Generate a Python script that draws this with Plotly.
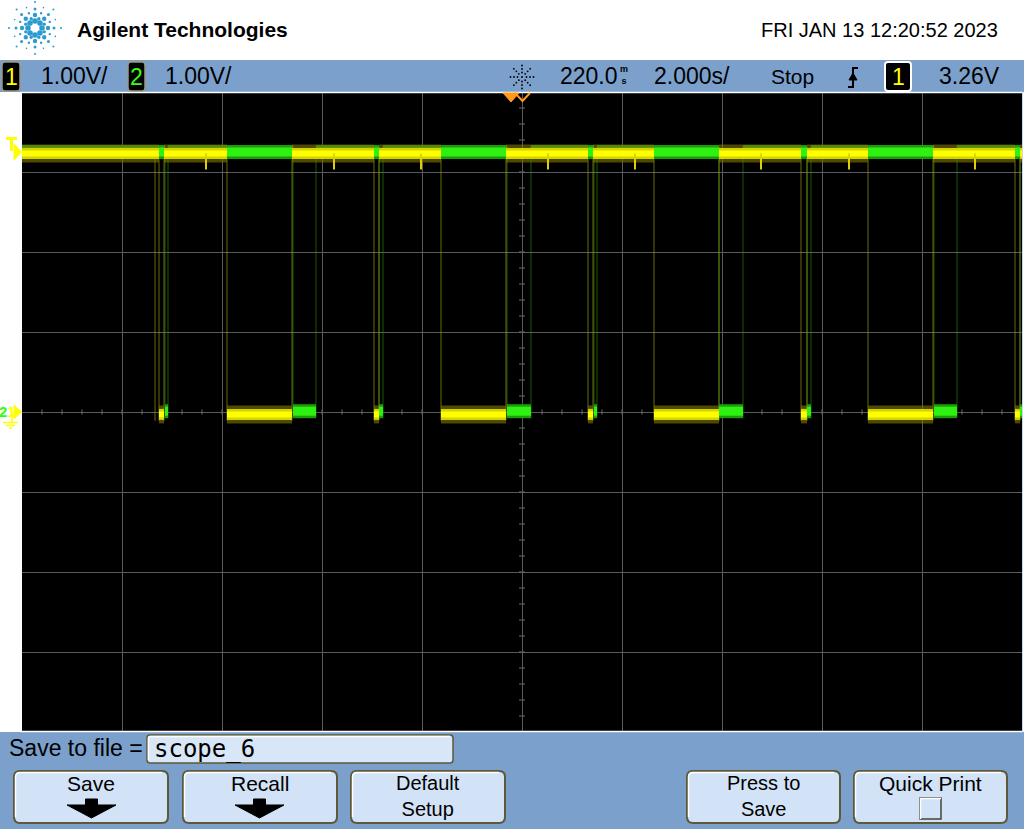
import math
import plotly.graph_objects as go

# ---------------- scope settings / data ----------------
TIME_PER_DIV = 2.0      # s/div
VOLTS_PER_DIV = 1.0     # V/div (both channels)
DELAY = 0.22            # s (horizontal position)
N_XDIV, N_YDIV = 10, 8

# Channel 1 (yellow): idles high, these are the low intervals (s)
ch1_low_start = [-7.04, -5.68, -2.74, -1.40, 1.54, 2.86, 5.80, 7.14, 10.08]
ch1_low_end   = [-6.94, -4.38, -2.64, -0.10, 1.64, 4.16, 5.92, 8.44, 10.18]
ch1_high_v = 3.23
ch1_low_v = -0.03
ch1_dip_t = [-6.10, -3.54, -1.80, 0.74, 2.48, 5.00, 6.76, 9.28]   # short dips on the high level
ch1_dip_v = 3.03
ch1_glitch_t = [-7.12]                                          # very brief drop

# Channel 2 (green): idles high, these are the low intervals (s)
ch2_low_start = [-6.92, -4.36, -2.64, -0.08, 1.66, 4.16, 5.92, 8.46, 10.18]
ch2_low_end   = [-6.86, -3.90, -2.56, 0.40, 1.72, 4.64, 6.00, 8.92, 10.30]
ch2_high_v = 3.25
ch2_low_v = 0.01

# texts
header_title = "Agilent Technologies"
header_date = "FRI JAN 13 12:20:52 2023"
ch_scale_labels = ["1.00V/", "1.00V/"]
delay_label = "220.0"
timebase_label = "2.000s/"
run_state = "Stop"
trig_level_label = "3.26V"
file_label = "Save to file ="
file_name = "scope_6"
buttons = [["Save"], ["Recall"], ["Default", "Setup"], ["Press to", "Save"], ["Quick Print"]]

# ---------------- geometry (pixels) ----------------
W, H = 1024, 829
L, R, T, B = 22, 1022, 92, 732
BLUE = "#7ba0cc"
BTN = "#d2e3f7"
OLIVE = "#5e5838"
FONT = "Liberation Sans, Arial, sans-serif"


def X(p):
    return (p - L) / (R - L)


def Y(p):
    return (B - p) / (B - T)


xmin = DELAY - N_XDIV / 2 * TIME_PER_DIV
xmax = DELAY + N_XDIV / 2 * TIME_PER_DIV
ymin = -N_YDIV / 2 * VOLTS_PER_DIV
ymax = N_YDIV / 2 * VOLTS_PER_DIV


def build(starts, ends, hi, lo):
    hx, hy, lx, ly, ex, ey = [], [], [], [], [], []
    t = xmin
    ext = 0.08
    for s, e in zip(starts, ends):
        hx += [t, s, None]; hy += [hi, hi, None]
        e2 = min(e, xmax)
        lx += [s, e2, None]; ly += [lo, lo, None]
        ex += [s, s, None]; ey += [hi + ext, lo - ext, None]
        if e < xmax:
            ex += [e, e, None]; ey += [lo - ext, hi + ext, None]
        t = e
    if t < xmax:
        hx += [t, xmax, None]; hy += [hi, hi, None]
    return hx, hy, lx, ly, ex, ey


fig = go.Figure()

# center crosshair minor ticks
tx, ty = [], []
hpx = 2.5 * (ymax - ymin) / (B - T)
wpx = 3.0 * (xmax - xmin) / (R - L)
for i in range(1, N_XDIV * 5):
    t = xmin + i * TIME_PER_DIV / 5
    tx += [t, t, None]; ty += [-hpx, hpx, None]
for j in range(1, N_YDIV * 5):
    v = ymin + j * VOLTS_PER_DIV / 5
    tx += [DELAY - wpx, DELAY + wpx, None]; ty += [v, v, None]
fig.add_trace(go.Scatter(x=tx, y=ty, mode="lines", line=dict(color="#6a6a6a", width=1), hoverinfo="skip"))

h1x, h1y, l1x, l1y, e1x, e1y = build(ch1_low_start, ch1_low_end, ch1_high_v, ch1_low_v)
h2x, h2y, l2x, l2y, e2x, e2y = build(ch2_low_start, ch2_low_end, ch2_high_v, ch2_low_v)
for g in ch1_glitch_t:
    e1x += [g, g, None]; e1y += [ch1_high_v, ch1_low_v - 0.08, None]

# edges (dim)
fig.add_trace(go.Scatter(x=e2x, y=e2y, mode="lines", line=dict(color="rgba(40,150,10,0.6)", width=1), hoverinfo="skip"))
fig.add_trace(go.Scatter(x=e1x, y=e1y, mode="lines", line=dict(color="rgba(160,160,20,0.65)", width=1), hoverinfo="skip"))

# channel 2 bands
gx = h2x + l2x
gy = h2y + l2y
fig.add_trace(go.Scatter(x=gx, y=gy, mode="lines", line=dict(color="#1c9e06", width=14), hoverinfo="skip"))
fig.add_trace(go.Scatter(x=gx, y=gy, mode="lines", line=dict(color="#2ef012", width=9), hoverinfo="skip"))
# channel 1 bands
yx = h1x + l1x
yy = h1y + l1y
fig.add_trace(go.Scatter(x=yx, y=yy, mode="lines", line=dict(color="rgba(130,120,0,0.6)", width=18), hoverinfo="skip"))
fig.add_trace(go.Scatter(x=yx, y=yy, mode="lines", line=dict(color="#d4d400", width=11), hoverinfo="skip"))
fig.add_trace(go.Scatter(x=yx, y=yy, mode="lines", line=dict(color="#ffff00", width=6), hoverinfo="skip"))
# dips
dx, dy = [], []
for d in ch1_dip_t:
    dx += [d, d, None]; dy += [ch1_high_v, ch1_dip_v, None]
fig.add_trace(go.Scatter(x=dx, y=dy, mode="lines", line=dict(color="#e0d000", width=2), hoverinfo="skip"))

shapes = []
ann = []


def rect(x0, y0, x1, y1, fill, line=None, lw=0):
    shapes.append(dict(type="rect", xref="paper", yref="paper", x0=X(x0), x1=X(x1), y0=Y(y1), y1=Y(y0),
                       fillcolor=fill, line=dict(color=line or fill, width=lw), layer="above"))


def path(pts, fill=None, line=None, lw=1, closed=True):
    d = "M " + " L ".join(f"{X(a):.5f},{Y(b):.5f}" for a, b in pts) + (" Z" if closed else "")
    shapes.append(dict(type="path", xref="paper", yref="paper", path=d,
                       fillcolor=fill if fill else "rgba(0,0,0,0)",
                       line=dict(color=line if line else "rgba(0,0,0,0)", width=lw), layer="above"))


def rrect(x0, y0, x1, y1, r, fill, line, lw, hl=True):
    def P(a, b):
        return f"{X(a):.5f},{Y(b):.5f}"
    d = (f"M {P(x0 + r, y0)} L {P(x1 - r, y0)} Q {P(x1, y0)} {P(x1, y0 + r)} L {P(x1, y1 - r)} "
         f"Q {P(x1, y1)} {P(x1 - r, y1)} L {P(x0 + r, y1)} Q {P(x0, y1)} {P(x0, y1 - r)} "
         f"L {P(x0, y0 + r)} Q {P(x0, y0)} {P(x0 + r, y0)} Z")
    shapes.append(dict(type="path", xref="paper", yref="paper", path=d, fillcolor=fill,
                       line=dict(color=line, width=lw), layer="above"))
    if hl:
        d2 = (f"M {P(x0 + 1.5, y1 - r)} L {P(x0 + 1.5, y0 + r)} Q {P(x0 + 1.5, y0 + 1.5)} {P(x0 + r, y0 + 1.5)} "
              f"L {P(x1 - r, y0 + 1.5)}")
        shapes.append(dict(type="path", xref="paper", yref="paper", path=d2,
                           line=dict(color="white", width=1.5), layer="above"))


def circle(cx, cy, r, color):
    shapes.append(dict(type="circle", xref="paper", yref="paper", x0=X(cx - r), x1=X(cx + r),
                       y0=Y(cy + r), y1=Y(cy - r), fillcolor=color, line=dict(width=0), layer="above"))


def txt(s, x, y, size, color="black", family=FONT, xanchor="center"):
    ann.append(dict(text=s, x=X(x), y=Y(y), xref="paper", yref="paper", showarrow=False,
                    xanchor=xanchor, yanchor="middle", font=dict(family=family, size=size, color=color)))


# bars
rect(0, 60, W, 92, BLUE)
rect(0, 732, W, H, BLUE)
# plot borders
shapes.append(dict(type="line", xref="paper", yref="paper", x0=X(21), x1=X(21), y0=Y(92), y1=Y(732),
                   line=dict(color="white", width=2), layer="above"))
shapes.append(dict(type="line", xref="paper", yref="paper", x0=X(20), x1=X(1023), y0=Y(92.5), y1=Y(92.5),
                   line=dict(color="white", width=1.5), layer="above"))
shapes.append(dict(type="line", xref="paper", yref="paper", x0=X(20), x1=X(1023), y0=Y(731.5), y1=Y(731.5),
                   line=dict(color="white", width=1.5), layer="above"))
shapes.append(dict(type="line", xref="paper", yref="paper", x0=X(1022.5), x1=X(1022.5), y0=Y(92), y1=Y(732),
                   line=dict(color="#c8d8f0", width=1), layer="above"))

# Agilent logo spark
cx, cy = 35, 28
for k in range(8):
    a = math.radians(k * 45)
    for rr, sz in [(7, 2.8), (13, 2.2), (19, 1.5), (26, 1.0)]:
        circle(cx + rr * math.cos(a), cy + rr * math.sin(a), sz, "#2e9bd0")
    a2 = math.radians(22.5 + k * 45)
    for rr, sz in [(10, 1.7), (16, 1.2), (22, 0.8)]:
        circle(cx + rr * math.cos(a2), cy + rr * math.sin(a2), sz, "#2e9bd0")
txt("<b>" + header_title + "</b>", 75, 29.5, 21, xanchor="left")
txt(header_date, 1000, 30, 20, xanchor="right")

# channel boxes
rrect(2, 62, 20, 91, 3, "black", "#9a9a80", 1.5, hl=False)
txt("1", 11, 76.5, 23, "#ffff00")
txt(ch_scale_labels[0], 74, 76, 23)
rrect(128, 62, 145, 91, 3, "black", "#9a9a80", 1.5, hl=False)
txt("2", 136.5, 76.5, 23, "#33ff11")
txt(ch_scale_labels[1], 198, 76, 23)

# acquisition icon
circle(522, 77, 1.0, "black")
for k in range(8):
    a = math.radians(k * 45)
    for rr in (4.5, 8, 11.5):
        circle(522 + rr * math.cos(a), 77 + rr * math.sin(a), 0.9, "black")

txt(delay_label, 589, 76, 23)
txt("<b>m<br>s</b>", 623.5, 75.5, 9)
txt(timebase_label, 692, 76, 23)
txt(run_state, 792, 76, 21)
# trigger slope symbol
path([(848, 87), (853, 87), (853, 68), (858, 68)], line="black", lw=2, closed=False)
path([(849, 80), (857, 80), (853, 73)], fill="black", line="black", lw=1)
rrect(885, 62, 911, 91, 3, "black", "white", 2, hl=False)
txt("1", 898, 76.5, 23, "#ffff00")
txt(trig_level_label, 969, 76, 23)

# trigger position markers (orange)
path([(515, 93), (522.5, 101), (530, 93)], line="#ff9a1a", lw=2, closed=False)
path([(503, 93), (519, 93), (511, 102)], fill="#ff9a1a", line="#ff9a1a", lw=1)

# left markers: trigger level "T" and ground reference
path([(6, 138.5), (17, 138.5)], line="#ffff00", lw=3, closed=False)
path([(11.5, 138.5), (11.5, 151)], line="#ffff00", lw=3, closed=False)
path([(14, 144), (21.5, 152), (14, 160)], fill="#ffff00", line="#ffff00", lw=1)
path([(14, 405), (21.5, 412), (14, 419)], fill="#ffff00", line="#ffff00", lw=1)
txt("<b><span style='color:#33ff11'>2</span><span style='color:#ffff00'>1</span></b>", 7, 411.5, 15)
path([(12, 413), (12, 422)], line="#ffff00", lw=1.5, closed=False)
path([(3, 422.5), (18, 422.5)], line="#ffff00", lw=1.5, closed=False)
path([(6, 425.5), (15, 425.5)], line="#ffff00", lw=1.5, closed=False)
path([(9, 428), (12, 428)], line="#ffff00", lw=1.5, closed=False)

# bottom panel
txt(file_label, 7, 748, 23, xanchor="left")
rrect(147, 735, 453, 763, 3, "#d8e7f7", OLIVE, 1.5)
txt(file_name, 152, 748.5, 24, family="DejaVu Sans Mono, monospace", xanchor="left")

btn_x = [(14, 168), (183, 337), (351, 505), (687, 840), (854, 1007)]
for (x0, x1), lab in zip(btn_x, buttons):
    rrect(x0, 771, x1, 823, 6, BTN, OLIVE, 2)
    c = (x0 + x1) / 2
    if len(lab) == 2:
        txt(lab[0] + "<br>" + lab[1], c, 796, 20)
    else:
        txt(lab[0], c, 783.5, 21)
# arrows for Save / Recall
for c in (91.5, 259.5):
    path([(c - 6, 799), (c + 6, 799), (c + 6, 805), (c + 24.5, 805), (c, 818), (c - 24.5, 805), (c - 6, 805)],
         fill="black", line="black", lw=1)
# quick print checkbox
rect(920, 798, 941, 819, BTN, "#4a4530", 1.5)
shapes.append(dict(type="line", xref="paper", yref="paper", x0=X(920.5), x1=X(920.5), y0=Y(798), y1=Y(819),
                   line=dict(color="white", width=1.5), layer="above"))
shapes.append(dict(type="line", xref="paper", yref="paper", x0=X(920), x1=X(941), y0=Y(798.5), y1=Y(798.5),
                   line=dict(color="white", width=1.5), layer="above"))

fig.update_layout(
    width=W, height=H, autosize=False,
    margin=dict(l=L, r=W - R, t=T, b=H - B, pad=0),
    paper_bgcolor="white", plot_bgcolor="black", showlegend=False,
    xaxis=dict(range=[xmin, xmax], tick0=DELAY, dtick=TIME_PER_DIV, showgrid=True, gridcolor="#5a5a5a",
               gridwidth=1, zeroline=False, showticklabels=False, ticks="", showline=False, fixedrange=True),
    yaxis=dict(range=[ymin, ymax], tick0=0, dtick=VOLTS_PER_DIV, showgrid=True, gridcolor="#5a5a5a",
               gridwidth=1, zeroline=False, showticklabels=False, ticks="", showline=False, fixedrange=True),
    shapes=shapes, annotations=ann,
)

fig.write_html(
    "out.html",
    config={"displayModeBar": False},
    post_script="document.body.style.margin='0';document.body.style.padding='0';document.body.style.overflow='hidden';",
)
